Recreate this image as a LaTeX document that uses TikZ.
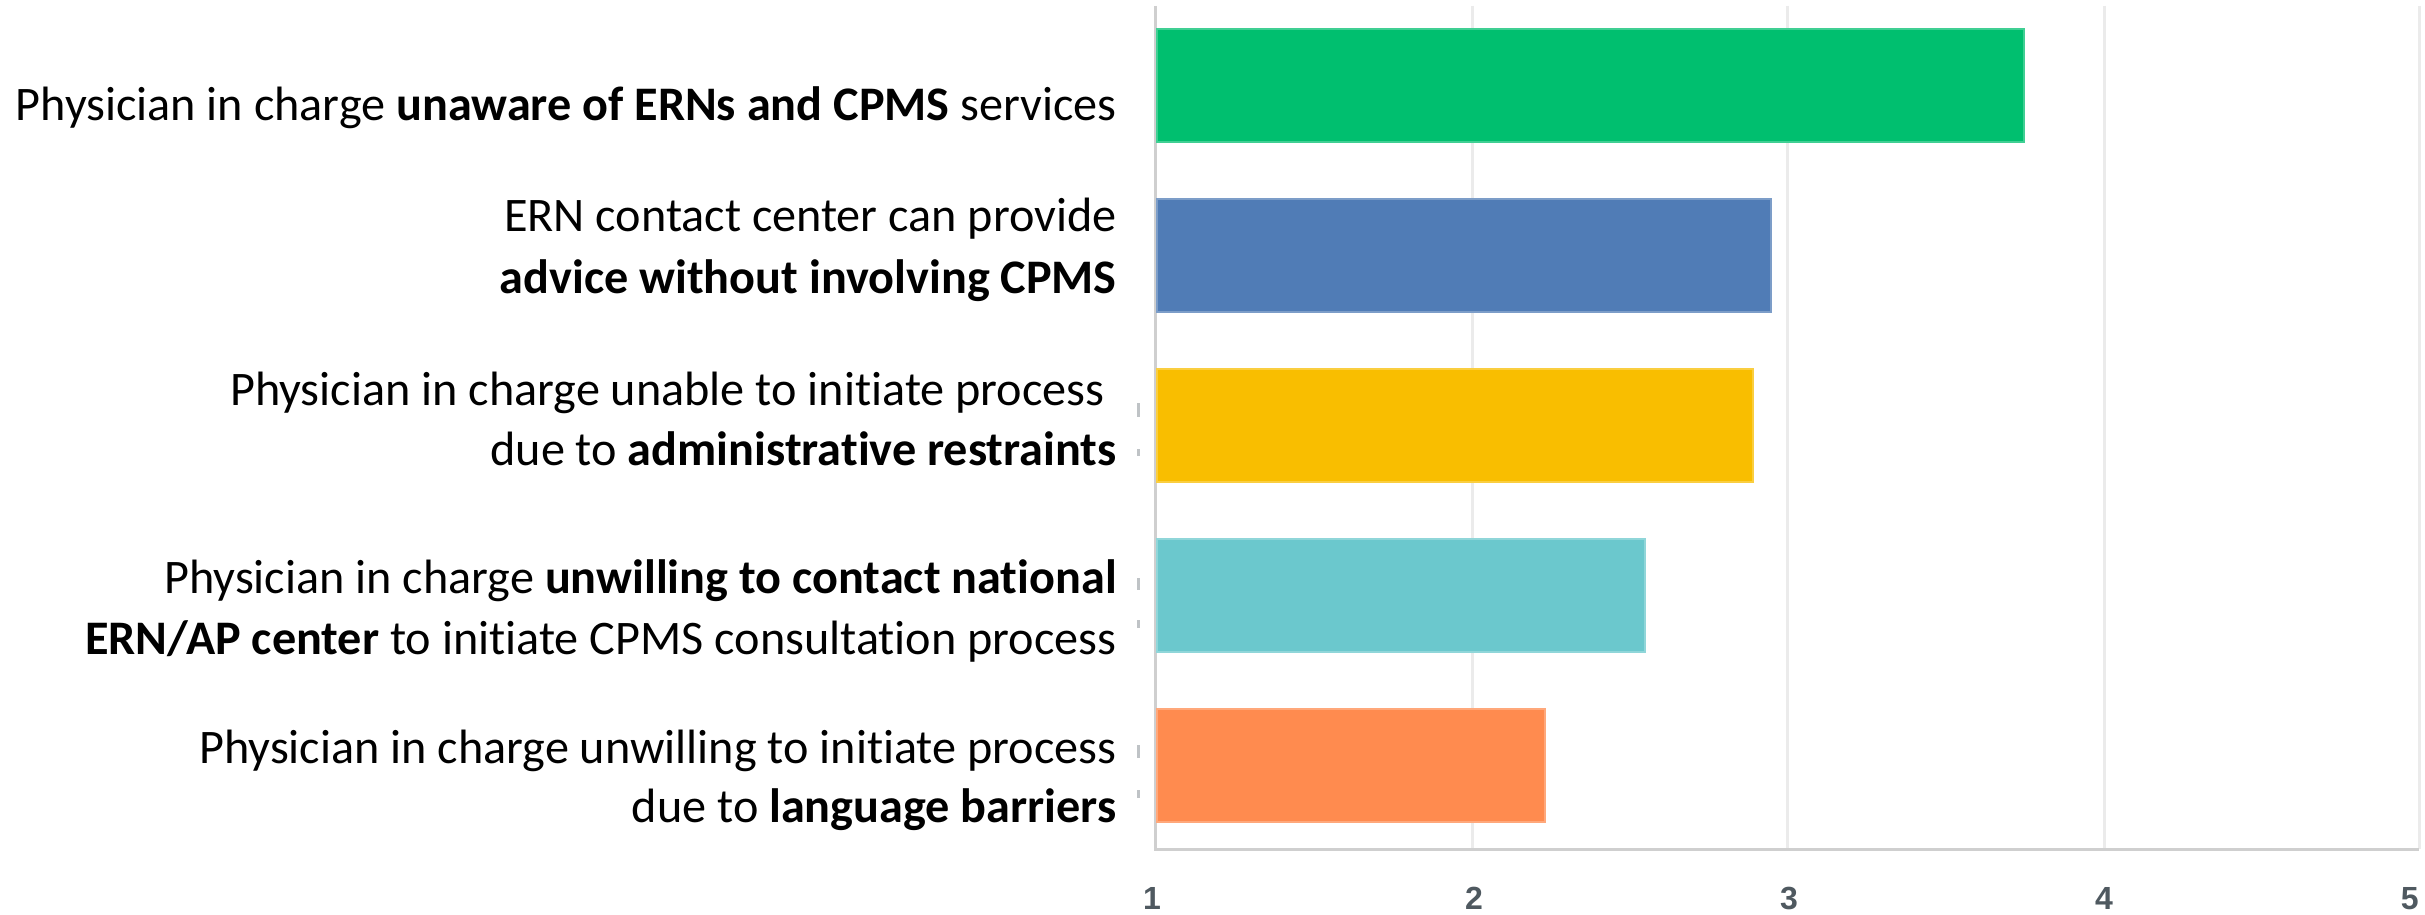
\documentclass[tikz,border=0pt]{standalone}
\usepackage{fontspec}
\setmainfont{Carlito}[Ligatures={NoCommon}]
\newfontfamily\axisfont{Liberation Sans}
\definecolor{cgreen}{HTML}{00BF6F}
\definecolor{cblue}{HTML}{507CB6}
\definecolor{cyellow}{HTML}{F9BE00}
\definecolor{ccyan}{HTML}{6BC8CD}
\definecolor{corange}{HTML}{FF8B4F}
\definecolor{gridc}{HTML}{EBEBEB}
\definecolor{axisc}{HTML}{CFCFCF}
\definecolor{numc}{HTML}{4F5960}
\definecolor{tickc}{HTML}{BFC3C6}
\begin{document}
\begin{tikzpicture}[x=0.5pt,y=-0.5pt,
  lbl/.style={anchor=base east, inner sep=0pt, font=\fontsize{24.1}{29}\selectfont},
  bar/.style={draw=#1!75!white, line width=0.6pt, fill=#1},
  gridline/.style={draw=gridc, line width=1.5pt},
  axisline/.style={draw=axisc, line width=1.5pt},
  stub/.style={draw=tickc, line width=1.5pt},
  num/.style={font=\axisfont\bfseries\fontsize{16}{19}\selectfont, text=numc, inner sep=0pt}]
\useasboundingbox (0,0) rectangle (2425,915);
\fill[white] (0,0) rectangle (2425,915);
% grid
\coordinate (g1t) at (1155,6);   \coordinate (g1b) at (1155,849);
\coordinate (g2t) at (1472,6);   \coordinate (g2b) at (1472,849);
\coordinate (g3t) at (1787,6);   \coordinate (g3b) at (1787,849);
\coordinate (g4t) at (2104,6);   \coordinate (g4b) at (2104,849);
\coordinate (g5t) at (2419,6);   \coordinate (g5b) at (2419,849);
\draw[gridline] (g2t) -- (g2b);
\draw[gridline] (g3t) -- (g3b);
\draw[gridline] (g4t) -- (g4b);
\draw[gridline] (g5t) -- (g5b);
\draw[axisline] (g1t) -- (g1b) -- (g5b);
% bars
\draw[bar=cgreen]  (1157,29)  rectangle (2024,142);
\draw[bar=cblue]   (1157,199) rectangle (1771,312);
\draw[bar=cyellow] (1157,369) rectangle (1753,482);
\draw[bar=ccyan]   (1157,539) rectangle (1645,652);
\draw[bar=corange] (1157,709) rectangle (1545,822);
% small stubs
\draw[stub] (1138,403) -- (1138,417);
\draw[stub] (1138,449) -- (1138,456);
\draw[stub] (1138,578) -- (1138,590);
\draw[stub] (1138,620) -- (1138,628);
\draw[stub] (1138,745) -- (1138,758);
\draw[stub] (1138,790) -- (1138,798);
% labels
\node[lbl] (l1) at (1117,120) {Physician in charge \textbf{unaware of ERNs and CPMS} services};
\node[lbl] (l2a) at (1117,231) {ERN contact center can provide};
\node[lbl] (l2b) at (1117,293) {\textbf{advice without involving CPMS}};
\node[lbl] (l3a) at (1117,405) {Physician in charge unable to initiate process\hspace*{6pt}\mbox{}};
\node[lbl] (l3b) at (1117,465) {due to \textbf{administrative restraints}};
\node[lbl] (l4a) at (1117,593) {Physician in charge \textbf{unwilling to contact national}};
\node[lbl] (l4b) at (1117,654) {\textbf{ERN/AP center} to initiate CPMS consultation process};
\node[lbl] (l5a) at (1117,763) {Physician in charge unwilling to initiate process};
\node[lbl] (l5b) at (1117,822) {due to \textbf{language barriers}};
% axis numbers
\node[num, anchor=base] (n1) at (1152,909) {1};
\node[num, anchor=base] (n2) at (1474,909) {2};
\node[num, anchor=base] (n3) at (1789,909) {3};
\node[num, anchor=base] (n4) at (2104,909) {4};
\node[num, anchor=base east] (n5) at (2419,909) {5};
\end{tikzpicture}
\end{document}
